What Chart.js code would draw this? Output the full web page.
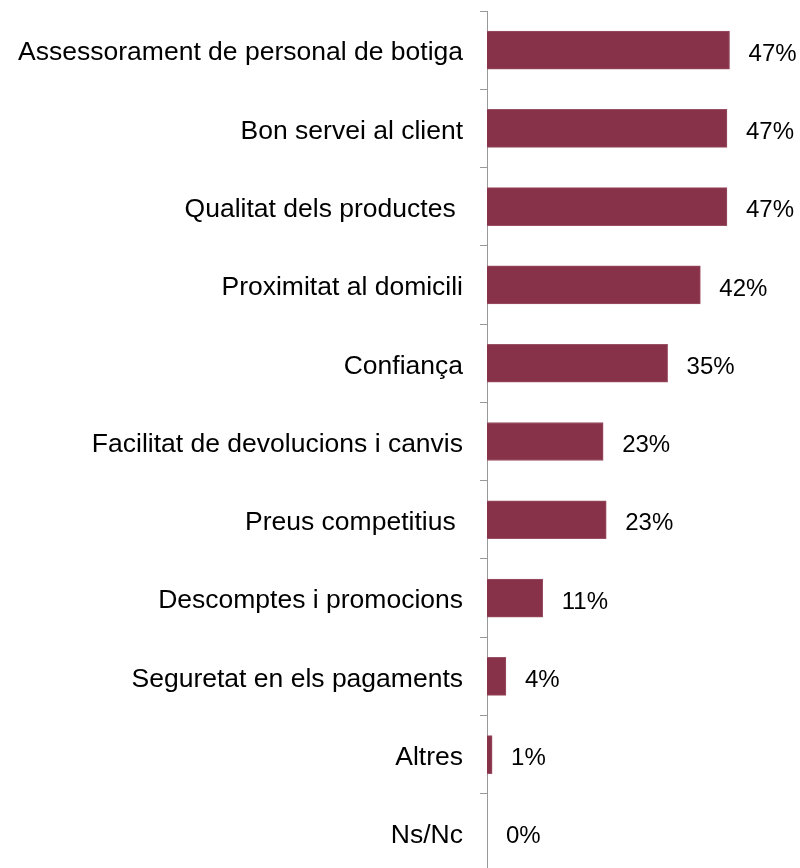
<!DOCTYPE html>
<html>
<head>
<meta charset="utf-8">
<script src="https://cdn.jsdelivr.net/npm/chart.js@4.4.1/dist/chart.umd.min.js"></script>
<style>
  html, body { margin: 0; padding: 0; background: #fff; overflow: hidden; }
  #wrap { width: 800px; height: 872px; }
</style>
</head>
<body>
<div id="wrap"><canvas id="myChart" width="800" height="872"></canvas></div>
<script>
// categories and values (percent)
var categories = [
    'Assessorament de personal de botiga',
    'Bon servei al client',
    'Qualitat dels productes ',
    'Proximitat al domicili',
    'Confiança',
    'Facilitat de devolucions i canvis',
    'Preus competitius ',
    'Descomptes i promocions',
    'Seguretat en els pagaments',
    'Altres',
    'Ns/Nc'
];
var values = [47.4, 46.9, 46.9, 41.7, 35.3, 22.7, 23.3, 10.9, 3.7, 1.0, 0];
var valueLabels = ['47%', '47%', '47%', '42%', '35%', '23%', '23%', '11%', '4%', '1%', '0%'];

// simple inline value label plugin
var valueLabelPlugin = {
    id: 'valueLabels',
    afterDatasetsDraw: function (chart) {
        var ctx = chart.ctx;
        var meta = chart.getDatasetMeta(0);
        ctx.save();
        ctx.font = '24px "Liberation Sans", Arial, sans-serif';
        ctx.fillStyle = '#000';
        ctx.textAlign = 'left';
        ctx.textBaseline = 'middle';
        meta.data.forEach(function (bar, i) {
            ctx.fillText(valueLabels[i], bar.x + 19, bar.y + 4);
        });
        ctx.restore();
    }
};

var ctx = document.getElementById('myChart').getContext('2d');
var chart = new Chart(ctx, {
    type: 'bar',
    data: {
        labels: categories,
        datasets: [{
            data: values,
            backgroundColor: '#873249',
            borderColor: '#9a5064',
            borderWidth: 1,
            borderSkipped: 'start',
            barThickness: 38
        }]
    },
    options: {
        indexAxis: 'y',
        responsive: false,
        animation: false,
        layout: { padding: { top: 11, right: 6, bottom: 0, left: 0 } },
        plugins: {
            legend: { display: false },
            tooltip: { enabled: false }
        },
        scales: {
            x: {
                display: false,
                min: 0,
                max: 60
            },
            y: {
                afterFit: function (scale) {
                    scale.width = 487;
                    scale.paddingTop = 0;
                    scale.paddingBottom = 0;
                },
                border: { color: '#999999', width: 1 },
                grid: {
                    drawOnChartArea: false,
                    offset: true,
                    tickLength: 7,
                    color: '#999999'
                },
                ticks: {
                    padding: 17,
                    labelOffset: 3,
                    color: '#000',
                    font: { family: '"Liberation Sans", Arial, sans-serif', size: 26.5 }
                }
            }
        }
    },
    plugins: [valueLabelPlugin]
});
</script>
</body>
</html>
